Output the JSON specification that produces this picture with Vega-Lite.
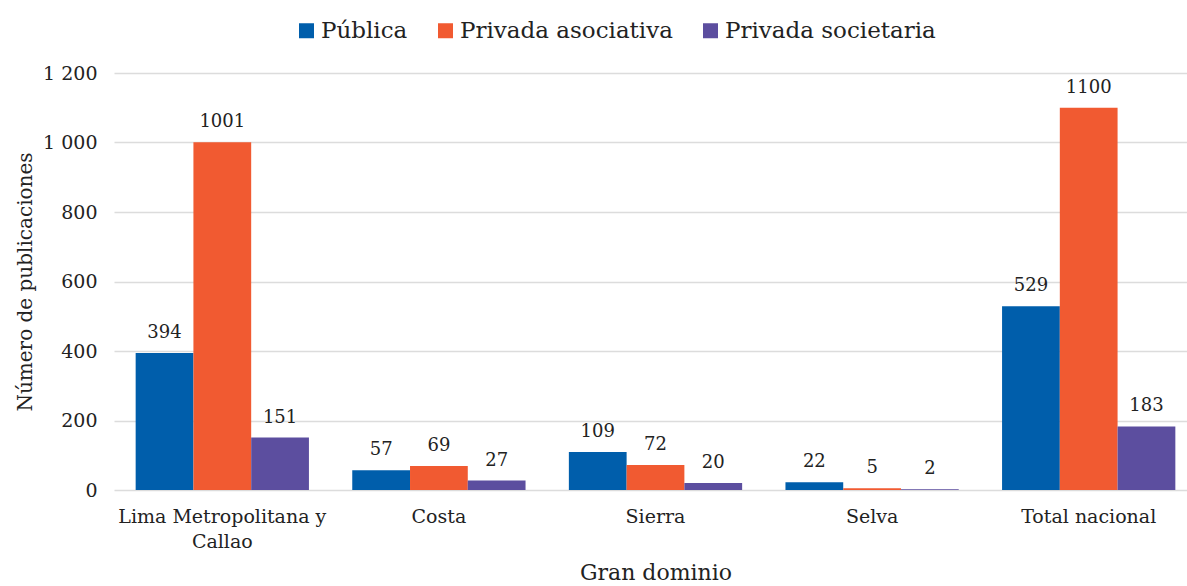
{
  "$schema": "https://vega.github.io/schema/vega-lite/v6.json",
  "autosize": "none",
  "width": 1083,
  "height": 417,
  "padding": {"left": 114, "top": 73, "right": 0, "bottom": 96},
  "background": "white",
  "config": {
    "font": "DejaVu Serif",
    "view": {"stroke": null},
    "axis": {"labelFont": "DejaVu Serif", "titleFont": "DejaVu Serif", "labelColor": "#222222", "titleColor": "#222222", "titleFontWeight": "normal"},
    "legend": {"labelFont": "DejaVu Serif"}
  },
  "data": {
    "values": [
      {"dominio": "Lima Metropolitana y Callao", "tipo": "Pública", "valor": 394},
      {"dominio": "Lima Metropolitana y Callao", "tipo": "Privada asociativa", "valor": 1001},
      {"dominio": "Lima Metropolitana y Callao", "tipo": "Privada societaria", "valor": 151},
      {"dominio": "Costa", "tipo": "Pública", "valor": 57},
      {"dominio": "Costa", "tipo": "Privada asociativa", "valor": 69},
      {"dominio": "Costa", "tipo": "Privada societaria", "valor": 27},
      {"dominio": "Sierra", "tipo": "Pública", "valor": 109},
      {"dominio": "Sierra", "tipo": "Privada asociativa", "valor": 72},
      {"dominio": "Sierra", "tipo": "Privada societaria", "valor": 20},
      {"dominio": "Selva", "tipo": "Pública", "valor": 22},
      {"dominio": "Selva", "tipo": "Privada asociativa", "valor": 5},
      {"dominio": "Selva", "tipo": "Privada societaria", "valor": 2},
      {"dominio": "Total nacional", "tipo": "Pública", "valor": 529},
      {"dominio": "Total nacional", "tipo": "Privada asociativa", "valor": 1100},
      {"dominio": "Total nacional", "tipo": "Privada societaria", "valor": 183}
    ]
  },
  "encoding": {
    "x": {
      "field": "dominio", "type": "nominal", "sort": null,
      "scale": {"paddingInner": 0.2, "paddingOuter": 0.1},
      "title": "Gran dominio",
      "axis": {
        "labelAngle": 0, "labelFontSize": 19, "labelPadding": 17, "labelLineHeight": 25, "labelLimit": 0,
        "labelExpr": "datum.label == 'Lima Metropolitana y Callao' ? ['Lima Metropolitana y', 'Callao'] : datum.label",
        "ticks": false, "domain": false, "titleFontSize": 22, "titlePadding": 11
      }
    },
    "xOffset": {"field": "tipo", "type": "nominal", "sort": ["Pública", "Privada asociativa", "Privada societaria"], "scale": {"paddingInner": 0, "paddingOuter": 0}},
    "y": {
      "field": "valor", "type": "quantitative",
      "scale": {"domain": [0, 1200]},
      "title": "Número de publicaciones",
      "axis": {
        "values": [0, 200, 400, 600, 800, 1000, 1200],
        "labelExpr": "replace(format(datum.value, ','), ',', ' ')",
        "labelFontSize": 19, "labelPadding": 17, "ticks": false, "domain": false,
        "gridColor": "#dcdcdc", "gridWidth": 1.3,
        "titleFontSize": 20, "titlePadding": 7
      }
    }
  },
  "layer": [
    {
      "mark": {"type": "bar"},
      "encoding": {
        "color": {
          "field": "tipo", "type": "nominal",
          "sort": ["Pública", "Privada asociativa", "Privada societaria"],
          "scale": {"domain": ["Pública", "Privada asociativa", "Privada societaria"], "range": ["#005EAB", "#F15A31", "#5C4E9F"]},
          "legend": {
            "title": null, "orient": "none", "direction": "horizontal",
            "legendX": 181, "legendY": -54,
            "symbolType": "square", "symbolSize": 225, "symbolStrokeWidth": 0,
            "labelFontSize": 23, "labelColor": "#222222", "labelOffset": 3, "columnPadding": 26, "labelLimit": 0
          }
        }
      }
    },
    {
      "mark": {"type": "text", "baseline": "alphabetic", "dy": -15, "fontSize": 18, "color": "#222222", "font": "DejaVu Serif"},
      "encoding": {"text": {"field": "valor", "type": "quantitative"}}
    }
  ]
}
